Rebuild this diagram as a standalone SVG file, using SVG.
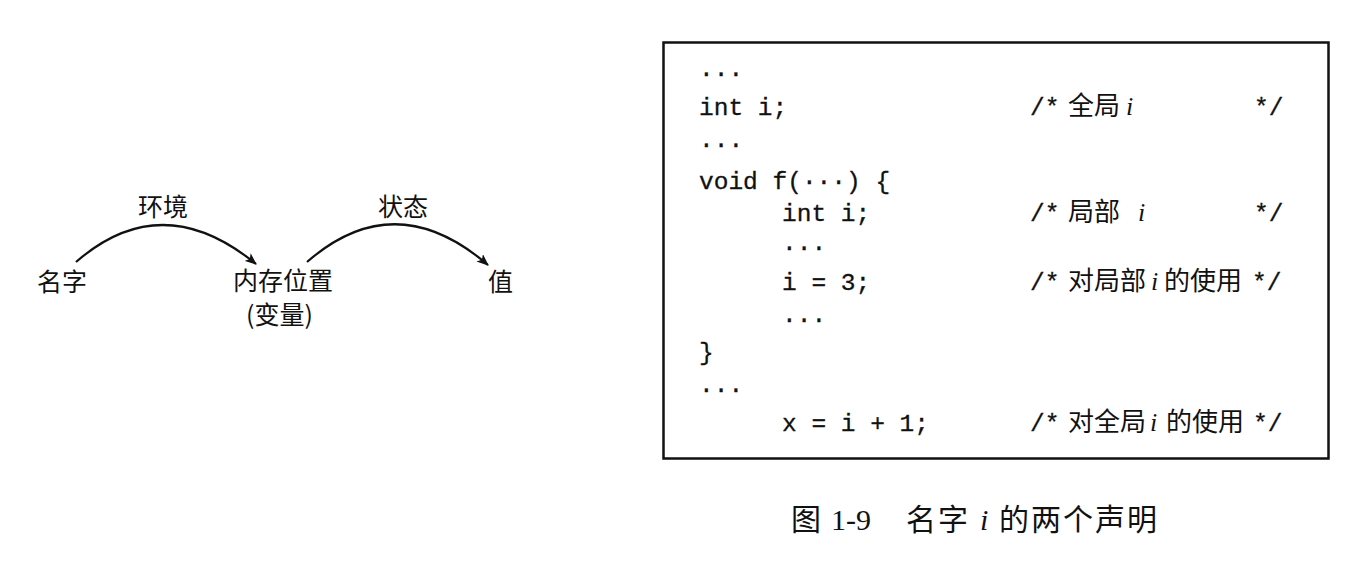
<svg xmlns="http://www.w3.org/2000/svg" width="1363" height="567" viewBox="0 0 1363 567">
<style>
.cn{font-family:"Noto Sans CJK SC","Liberation Serif",serif;font-size:25px;fill:#111}
.code{font-family:"Liberation Mono","DejaVu Sans Mono",monospace;font-size:24.5px;fill:#111;stroke:#111;stroke-width:0.3}
.zh{font-family:"Noto Sans CJK SC","Liberation Sans",sans-serif;font-size:26px;fill:#111}
.it{font-family:"Liberation Serif",serif;font-style:italic;font-size:26px;fill:#111}
.cap{font-family:"Liberation Serif","Noto Sans CJK SC",serif;font-size:30px;fill:#111}
.capzh{font-family:"Noto Sans CJK SC","Liberation Serif",serif;font-size:30px;fill:#111;letter-spacing:2px}
.edge{fill:none;stroke:#111;stroke-width:2.2}
</style>
<defs>
<marker id="ah" viewBox="0 0 12 10" refX="11" refY="5" markerWidth="12" markerHeight="10" markerUnits="userSpaceOnUse" orient="auto">
<path d="M0,0 L12,5 L0,10 L3,5 Z" fill="#111"/>
</marker>
</defs>
<rect width="1363" height="567" fill="#fff"/>
<g id="n-name"><text class="cn" x="37" y="291">名字</text></g>
<g id="n-loc"><text class="cn" x="233" y="290">内存位置</text><text class="cn" x="246" y="324">(变量)</text></g>
<g id="n-val"><text class="cn" x="488" y="291">值</text></g>
<g id="connectors">
<path class="edge" d="M76,262 Q162,187 256,264" marker-end="url(#ah)"/>
<path class="edge" d="M307,262 Q395,185 488,265" marker-end="url(#ah)"/>
<text class="cn" x="138" y="216">环境</text>
<text class="cn" x="378" y="216">状态</text>
</g>
<g id="code-box">
<rect x="663.5" y="42.5" width="665" height="416" fill="none" stroke="#111" stroke-width="2.5"/>
<text class="code" x="699" y="76">...</text>
<text class="code" x="699" y="115">int i;</text>
<text class="code" x="1030" y="115">/*</text><text class="zh" x="1068" y="115">全局</text><text class="it" x="1126" y="115">i</text>
<text class="code" x="1254" y="115">*/</text>
<text class="code" x="699" y="147">...</text>
<text class="code" x="699" y="189">void f(···) {</text>
<text class="code" x="782" y="221">int i;</text>
<text class="code" x="1030" y="221">/*</text><text class="zh" x="1068" y="221">局部</text><text class="it" x="1138" y="221">i</text>
<text class="code" x="1254" y="221">*/</text>
<text class="code" x="782" y="250">...</text>
<text class="code" x="782" y="290">i = 3;</text>
<text class="code" x="1030" y="290">/*</text><text class="zh" x="1068" y="290">对局部</text><text class="it" x="1151" y="290">i</text><text class="zh" x="1164" y="290">的使用</text>
<text class="code" x="1252" y="290">*/</text>
<text class="code" x="782" y="322">...</text>
<text class="code" x="699" y="360">}</text>
<text class="code" x="699" y="392">...</text>
<text class="code" x="782" y="431">x = i + 1;</text>
<text class="code" x="1030" y="431">/*</text><text class="zh" x="1068" y="431">对全局</text><text class="it" x="1150" y="431">i</text><text class="zh" x="1166" y="431">的使用</text>
<text class="code" x="1253" y="431">*/</text>
</g>
<g id="caption">
<text class="capzh" x="791" y="530">图</text>
<text class="cap" x="831" y="530">1-9</text>
<text class="capzh" x="906" y="530">名字</text>
<text class="cap" x="980" y="530" font-style="italic">i</text>
<text class="capzh" x="999" y="530">的两个声明</text>
</g>
</svg>
